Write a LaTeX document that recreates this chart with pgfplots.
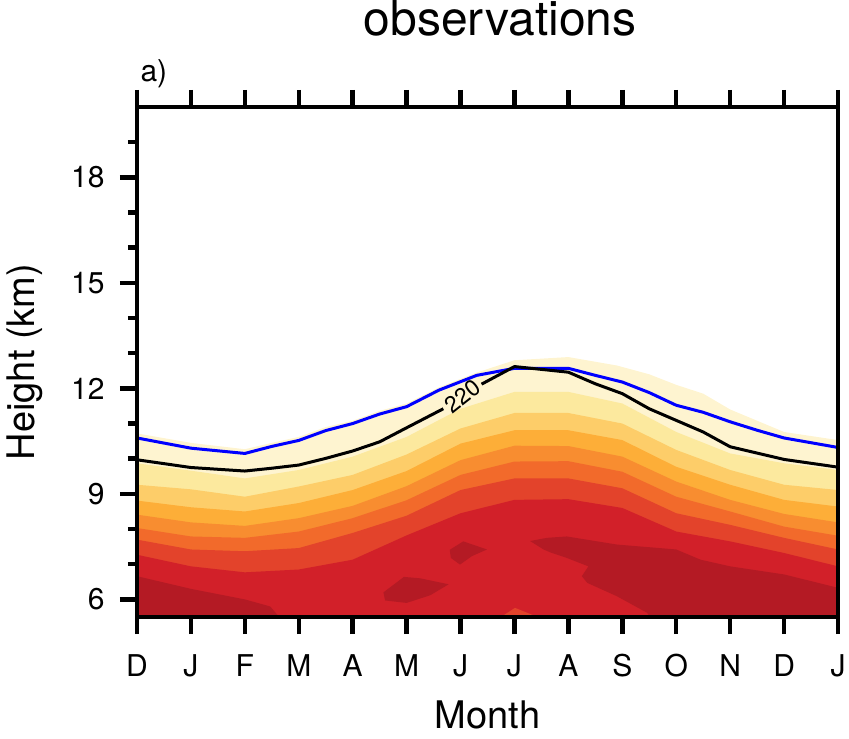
\documentclass[border=0pt]{standalone}
\usepackage{pgfplots}
\pgfplotsset{compat=1.18}
\usepackage{fontspec}
\setmainfont{TeX Gyre Heros}
\definecolor{cA}{HTML}{FEF4D0}
\definecolor{cB}{HTML}{FCE99E}
\definecolor{cC}{HTML}{FDCD69}
\definecolor{cD}{HTML}{FDAE38}
\definecolor{cE}{HTML}{F88D30}
\definecolor{cF}{HTML}{F26A2B}
\definecolor{cG}{HTML}{E3432B}
\definecolor{cH}{HTML}{D22029}
\definecolor{cI}{HTML}{B41A24}
\begin{document}
\begin{tikzpicture}
\path[use as bounding box] (-137pt,-122pt) rectangle (712pt,617pt);
\begin{axis}[
  name=ax,
  scale only axis, width=701pt, height=510pt,
  at={(0pt,0pt)}, anchor=south west,
  xmin=0, xmax=13, ymin=5.5, ymax=20,
  xtick={0,...,13}, xticklabels={D,J,F,M,A,M,J,J,A,S,O,N,D,J},
  ytick={6,9,12,15,18}, minor ytick={7,8,10,11,13,14,16,17,19},
  xtick pos=both, ytick pos=left, xticklabel pos=left,
  tick align=outside,
  major tick length=17pt, minor tick length=9pt,
  every tick/.style={black, line width=4.5pt},
  axis line style={line width=4.5pt},
  ticklabel style={font=\fontsize{30}{30}\selectfont},
  xticklabel style={yshift=-17pt},
  yticklabel style={xshift=-12pt},
  /pgf/number format/assume math mode=true,
  xlabel={Month}, ylabel={Height (km)},
  label style={font=\fontsize{38}{38}\selectfont},
  xlabel style={at={(axis description cs:0.5,0)}, anchor=base, yshift=-111pt},
  ylabel style={at={(axis description cs:-0.16,0.5)}, anchor=center},
  title={observations},
  title style={font=\fontsize{48}{48}\selectfont, at={(axis description cs:0.518,1)}, anchor=base, yshift=65pt},
  axis on top,
]
% bands (top boundary of each band, filled downward)
\addplot[fill=cA, draw=none] coordinates {(0,10.72) (1,10.45) (2,10.27) (2.5,10.45) (3,10.62) (3.5,10.90) (4,11.08) (4.5,11.36) (5,11.57) (5.6,12.03) (6.3,12.45) (7,12.80) (8,12.89) (8.9,12.65) (9.5,12.40) (10,12.10) (10.5,11.85) (11,11.40) (12,10.76) (13,10.53) (13,5.3) (0,5.3)} --cycle;
\addplot[fill=cB, draw=none] coordinates {(0,9.87) (1,9.66) (2,9.44) (3,9.68) (4,10.06) (5,10.62) (6,11.42) (7,11.90) (8,11.90) (9,11.57) (10,10.76) (11,10.15) (12,9.87) (13,9.68) (13,5.3) (0,5.3)} --cycle;
\addplot[fill=cC, draw=none] coordinates {(0,9.26) (1,9.13) (2,8.92) (3,9.21) (4,9.54) (5,10.12) (6,10.86) (7,11.30) (8,11.30) (9,11.00) (10,10.25) (11,9.68) (12,9.26) (13,9.11) (13,5.3) (0,5.3)} --cycle;
\addplot[fill=cD, draw=none] coordinates {(0,8.81) (1,8.62) (2,8.50) (3,8.74) (4,9.11) (5,9.65) (6,10.43) (7,10.81) (8,10.81) (9,10.53) (10,9.77) (11,9.26) (12,8.83) (13,8.64) (13,5.3) (0,5.3)} --cycle;
\addplot[fill=cE, draw=none] coordinates {(0,8.41) (1,8.19) (2,8.09) (3,8.31) (4,8.66) (5,9.22) (6,9.96) (7,10.37) (8,10.36) (9,10.06) (10,9.35) (11,8.83) (12,8.43) (13,8.19) (13,5.3) (0,5.3)} --cycle;
\addplot[fill=cF, draw=none] coordinates {(0,8.03) (1,7.79) (2,7.75) (3,7.93) (4,8.31) (5,8.82) (6,9.54) (7,9.92) (8,9.93) (9,9.63) (10,8.92) (11,8.50) (12,8.07) (13,7.81) (13,5.3) (0,5.3)} --cycle;
\addplot[fill=cG, draw=none] coordinates {(0,7.70) (1,7.42) (2,7.37) (3,7.46) (4,7.89) (5,8.38) (6,9.11) (7,9.44) (8,9.44) (9,9.16) (10,8.45) (11,8.12) (12,7.75) (13,7.42) (13,5.3) (0,5.3)} --cycle;
\addplot[fill=cH, draw=none] coordinates {(0,7.27) (1,6.94) (2,6.77) (3,6.85) (4,7.13) (5,7.82) (6,8.45) (7,8.83) (8,8.85) (9,8.60) (10,7.93) (11,7.65) (12,7.32) (13,6.94) (13,5.3) (0,5.3)} --cycle;
% darkest patches
\addplot[fill=cI, draw=none] coordinates {(0,6.66) (1,6.30) (2,6.00) (2.47,5.80) (2.75,5.3) (0,5.3)} --cycle;
\addplot[fill=cI, draw=none] coordinates {(7.29,7.66) (7.6,7.75) (7.97,7.79) (8.9,7.56) (10.0,7.42) (10.45,7.13) (11,6.94) (12,6.71) (13,6.33) (13,5.3) (9.6,5.3) (9.46,5.62) (8.9,6.09) (8.35,6.47) (8.25,6.66) (8.37,6.94) (7.97,7.18) (7.66,7.34) (7.54,7.42)} --cycle;
\addplot[fill=cI, draw=none] coordinates {(5.8,7.41) (6.05,7.65) (6.49,7.42) (6.21,7.23) (5.99,6.99) (5.82,7.18)} --cycle;
\addplot[fill=cI, draw=none] coordinates {(4.57,6.2) (4.95,6.64) (5.25,6.6) (5.78,6.43) (5.44,6.12) (5.0,5.9) (4.6,5.97)} --cycle;
\addplot[fill=cG, draw=none] coordinates {(6.65,5.3) (6.75,5.5) (7.01,5.76) (7.35,5.55) (7.4,5.3)} --cycle;
% tropopause (blue) and 220 K contour (black)
\addplot[blue, line width=3pt, line join=round] coordinates {(0,10.59) (1,10.30) (2,10.15) (2.5,10.35) (3,10.52) (3.5,10.80) (4,11.00) (4.5,11.27) (5,11.48) (5.6,11.95) (6.3,12.37) (7,12.57) (8,12.57) (8.5,12.37) (9,12.18) (9.5,11.88) (10,11.52) (10.5,11.32) (11,11.05) (11.5,10.81) (12,10.59) (13,10.32)};
\addplot[black, line width=3pt, line join=round] coordinates {(0,9.97) (1,9.75) (2,9.65) (2.5,9.73) (3,9.82) (3.5,10.01) (4,10.22) (4.5,10.48) (5,10.88) (5.68,11.42)};
\addplot[black, line width=3pt, line join=round] coordinates {(6.39,12.12) (7,12.62) (8,12.46) (8.5,12.13) (9,11.85) (9.5,11.42) (10,11.09) (10.5,10.76) (11,10.34) (12,9.98) (13,9.76)};
\addplot[draw=none] coordinates {(5.68,11.42) (6.39,12.12)} node[pos=0.5, rotate=38, inner sep=0pt, font=\fontsize{23}{23}\selectfont, text=black] {220};
\end{axis}
\node[anchor=base west, font=\fontsize{30}{30}\selectfont] at ([yshift=25pt]ax.north west) {a)};
\end{tikzpicture}
\end{document}
